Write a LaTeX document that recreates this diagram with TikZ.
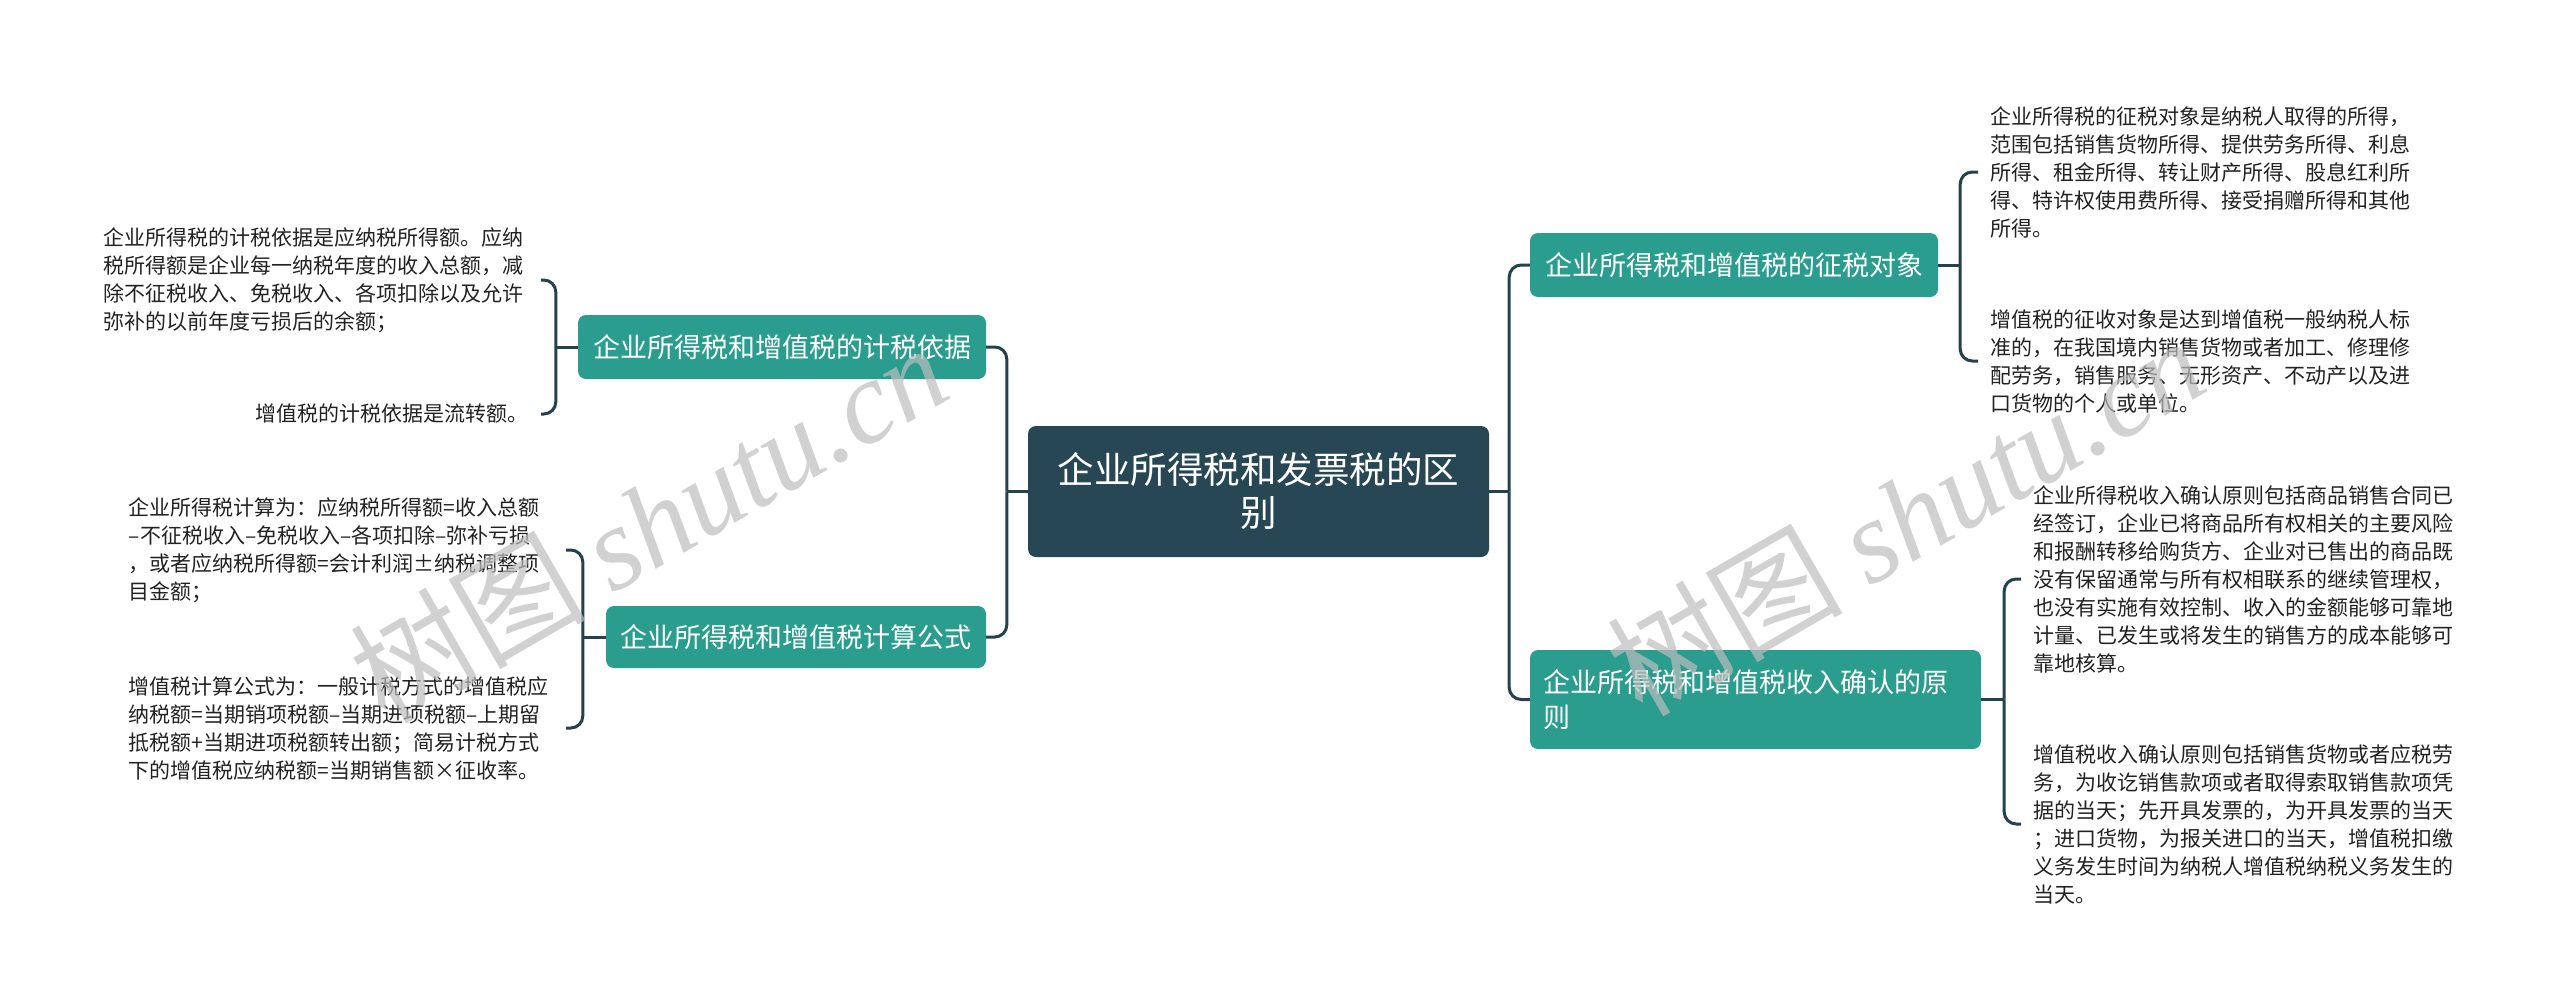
\documentclass[tikz,border=0pt]{standalone}
\usepackage{fontspec}
\setmainfont{Noto Sans CJK SC}
\newfontfamily\wmlatin{Liberation Serif}
\newfontfamily\wmcjk{Noto Sans CJK SC}
\usetikzlibrary{calc}
\definecolor{rootc}{HTML}{274754}
\definecolor{tealc}{HTML}{2A9D8F}
\definecolor{linec}{HTML}{24414D}
\definecolor{leaftext}{HTML}{222222}
\definecolor{wmc}{HTML}{BDBDBD}
\tikzset{
  rootbox/.style={fill=rootc, rounded corners=8pt, text=white,
    font=\fontsize{36.5}{43}\selectfont, align=center,
    minimum width=461pt, minimum height=131pt, inner sep=0pt},
  branchbox/.style={fill=tealc, rounded corners=8pt, text=white,
    font=\fontsize{27}{35}\selectfont, inner xsep=13pt, inner ysep=0pt,
    minimum height=64pt},
  leafbox/.style={font=\fontsize{21}{28}\selectfont, inner xsep=12pt,
    inner ysep=4pt, text=leaftext},
  multileaf/.style={leafbox, text width=425pt, align=left},
  conn/.style={draw=linec, line width=3pt, rounded corners=12pt},
  stub/.style={draw=linec, line width=3pt},
  wmark/.style={text=wmc, opacity=0.7, rotate=30,
    font=\fontsize{118}{130}\selectfont}
}
\begin{document}
\begin{tikzpicture}[x=1pt,y=-1pt]
\useasboundingbox (0,0) rectangle (2560,1007);

% root
\node[rootbox] (root) at (1258.5,491.5) {企业所得税和发票税的区\\别};

% branches
\node[branchbox, minimum width=408pt] (L1) at (782,347) {企业所得税和增值税的计税依据};
\node[branchbox, minimum width=380pt, minimum height=62pt] (L2) at (796,637) {企业所得税和增值税计算公式};
\node[branchbox, minimum width=408pt] (R1) at (1734,265) {企业所得税和增值税的征税对象};
\node[branchbox, text width=425pt, align=left, minimum height=99pt] (R2) at (1755.5,699.5) {企业所得税和增值税收入确认的原\\则};

% leaves left
\node[multileaf, anchor=east] (L1a) at (541,280) {企业所得税的计税依据是应纳税所得额。应纳\\税所得额是企业每一纳税年度的收入总额，减\\除不征税收入、免税收入、各项扣除以及允许\\弥补的以前年度亏损后的余额；};
\node[leafbox, anchor=east] (L1b) at (541,414) {增值税的计税依据是流转额。};
\node[multileaf, anchor=east] (L2a) at (566,550) {企业所得税计算为：应纳税所得额=收入总额\\–不征税收入–免税收入–各项扣除–弥补亏损\\，或者应纳税所得额=会计利润±纳税调整项\\目金额；};
\node[multileaf, anchor=east] (L2b) at (566,728) {增值税计算公式为：一般计税方式的增值税应\\纳税额=当期销项税额–当期进项税额–上期留\\抵税额+当期进项税额转出额；简易计税方式\\下的增值税应纳税额=当期销售额×征收率。};

% leaves right
\node[multileaf, anchor=west] (R1a) at (1978,172) {企业所得税的征税对象是纳税人取得的所得，\\范围包括销售货物所得、提供劳务所得、利息\\所得、租金所得、转让财产所得、股息红利所\\得、特许权使用费所得、接受捐赠所得和其他\\所得。};
\node[multileaf, anchor=west] (R1b) at (1978,361) {增值税的征收对象是达到增值税一般纳税人标\\准的，在我国境内销售货物或者加工、修理修\\配劳务，销售服务、无形资产、不动产以及进\\口货物的个人或单位。};
\node[multileaf, anchor=west] (R2a) at (2021,579) {企业所得税收入确认原则包括商品销售合同已\\经签订，企业已将商品所有权相关的主要风险\\和报酬转移给购货方、企业对已售出的商品既\\没有保留通常与所有权相联系的继续管理权，\\也没有实施有效控制、收入的金额能够可靠地\\计量、已发生或将发生的销售方的成本能够可\\靠地核算。};
\node[multileaf, anchor=west] (R2b) at (2021,824) {增值税收入确认原则包括销售货物或者应税劳\\务，为收讫销售款项或者取得索取销售款项凭\\据的当天；先开具发票的，为开具发票的当天\\；进口货物，为报关进口的当天，增值税扣缴\\义务发生时间为纳税人增值税纳税义务发生的\\当天。};

% junctions
\coordinate (jrl) at ($(root.west)+(-21,0)$);
\coordinate (jrr) at ($(root.east)+(20,0)$);
\coordinate (jL1) at ($(L1.west)+(-22,0)$);
\coordinate (jL2) at ($(L2.west)+(-23,0)$);
\coordinate (jR1) at ($(R1.east)+(22,0)$);
\coordinate (jR2) at ($(R2.east)+(23,0)$);

% connectors
\draw[stub] (root.west) -- (jrl);
\draw[conn] (jrl) |- (L1.east);
\draw[conn] (jrl) |- (L2.east);
\draw[stub] (root.east) -- (jrr);
\draw[conn] (jrr) |- (R1.west);
\draw[conn] (jrr) |- (R2.west);

\draw[stub] (L1.west) -- (jL1);
\draw[conn] (jL1) |- (L1a.east);
\draw[conn] (jL1) |- (L1b.east);
\draw[stub] (L2.west) -- (jL2);
\draw[conn] (jL2) |- (L2a.east);
\draw[conn] (jL2) |- (L2b.east);

\draw[stub] (R1.east) -- (jR1);
\draw[conn] (jR1) |- (R1a.west);
\draw[conn] (jR1) |- (R1b.west);
\draw[stub] (R2.east) -- (jR2);
\draw[conn] (jR2) |- (R2a.west);
\draw[conn] (jR2) |- (R2b.west);

% watermarks
\node[wmark] (wm1) at (648,522) {\wmcjk 树图 \wmlatin\itshape shutu.cn};
\node[wmark] (wm2) at (1905,515) {\wmcjk 树图 \wmlatin\itshape shutu.cn};
\end{tikzpicture}
\end{document}
